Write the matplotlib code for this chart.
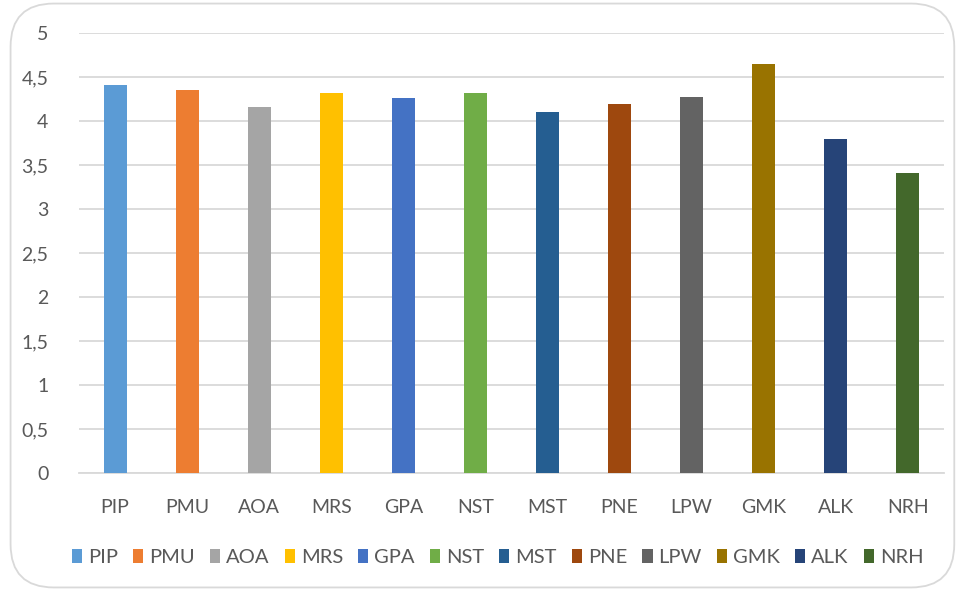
import numpy as np
import matplotlib.pyplot as plt
from matplotlib.patches import FancyBboxPatch, Patch

categories = ["PIP", "PMU", "AOA", "MRS", "GPA", "NST", "MST", "PNE", "LPW", "GMK", "ALK", "NRH"]
values = [4.41, 4.35, 4.16, 4.32, 4.26, 4.32, 4.10, 4.19, 4.27, 4.65, 3.80, 3.41]
colors = ["#5B9BD5", "#ED7D31", "#A5A5A5", "#FFC000", "#4472C4", "#70AD47",
          "#255E91", "#9E480E", "#636363", "#997300", "#264478", "#43682B"]
yticks = [0, 0.5, 1, 1.5, 2, 2.5, 3, 3.5, 4, 4.5, 5]
ytick_labels = ["0", "0,5", "1", "1,5", "2", "2,5", "3", "3,5", "4", "4,5", "5"]

plt.rcParams['font.family'] = ['Lato', 'DejaVu Sans']
txt = "#595959"

fig = plt.figure(figsize=(9.61, 5.91), dpi=100)
ax = fig.add_axes([0.0822, 0.1997, 0.9001, 0.7443])

x = np.arange(len(categories))
ax.bar(x, values, width=0.32, color=colors, zorder=3)

ax.set_xlim(-0.5, len(categories) - 0.5)
ax.set_ylim(0, 5)
ax.set_yticks(yticks)
ax.set_yticklabels(ytick_labels)
ax.set_xticks(x)
ax.set_xticklabels(categories)
ax.tick_params(axis='both', length=0, labelsize=14, colors=txt)
ax.tick_params(axis='y', pad=22)
ax.tick_params(axis='x', pad=19)
ax.grid(axis='y', color="#D9D9D9", linewidth=1.3, zorder=0)
for s in ["top", "right", "left"]:
    ax.spines[s].set_visible(False)
ax.spines["bottom"].set_color("#D9D9D9")
ax.spines["bottom"].set_linewidth(1.3)

handles = [Patch(facecolor=c, edgecolor='none') for c in colors]
fig.legend(handles, categories, loc='center', bbox_to_anchor=(0.518, 0.057), ncol=12,
           frameon=False, fontsize=14.5, handlelength=0.5, handleheight=0.75,
           handletextpad=0.3, columnspacing=0.75, labelcolor=txt)

border = FancyBboxPatch((0.011, 0.006), 0.982, 0.988, transform=fig.transFigure,
                        boxstyle="round,pad=0,rounding_size=0.045",
                        facecolor='none', edgecolor="#D9D9D9", linewidth=1.3,
                        mutation_aspect=961 / 591)
fig.patches.append(border)

fig.savefig("out.png", dpi=100)
